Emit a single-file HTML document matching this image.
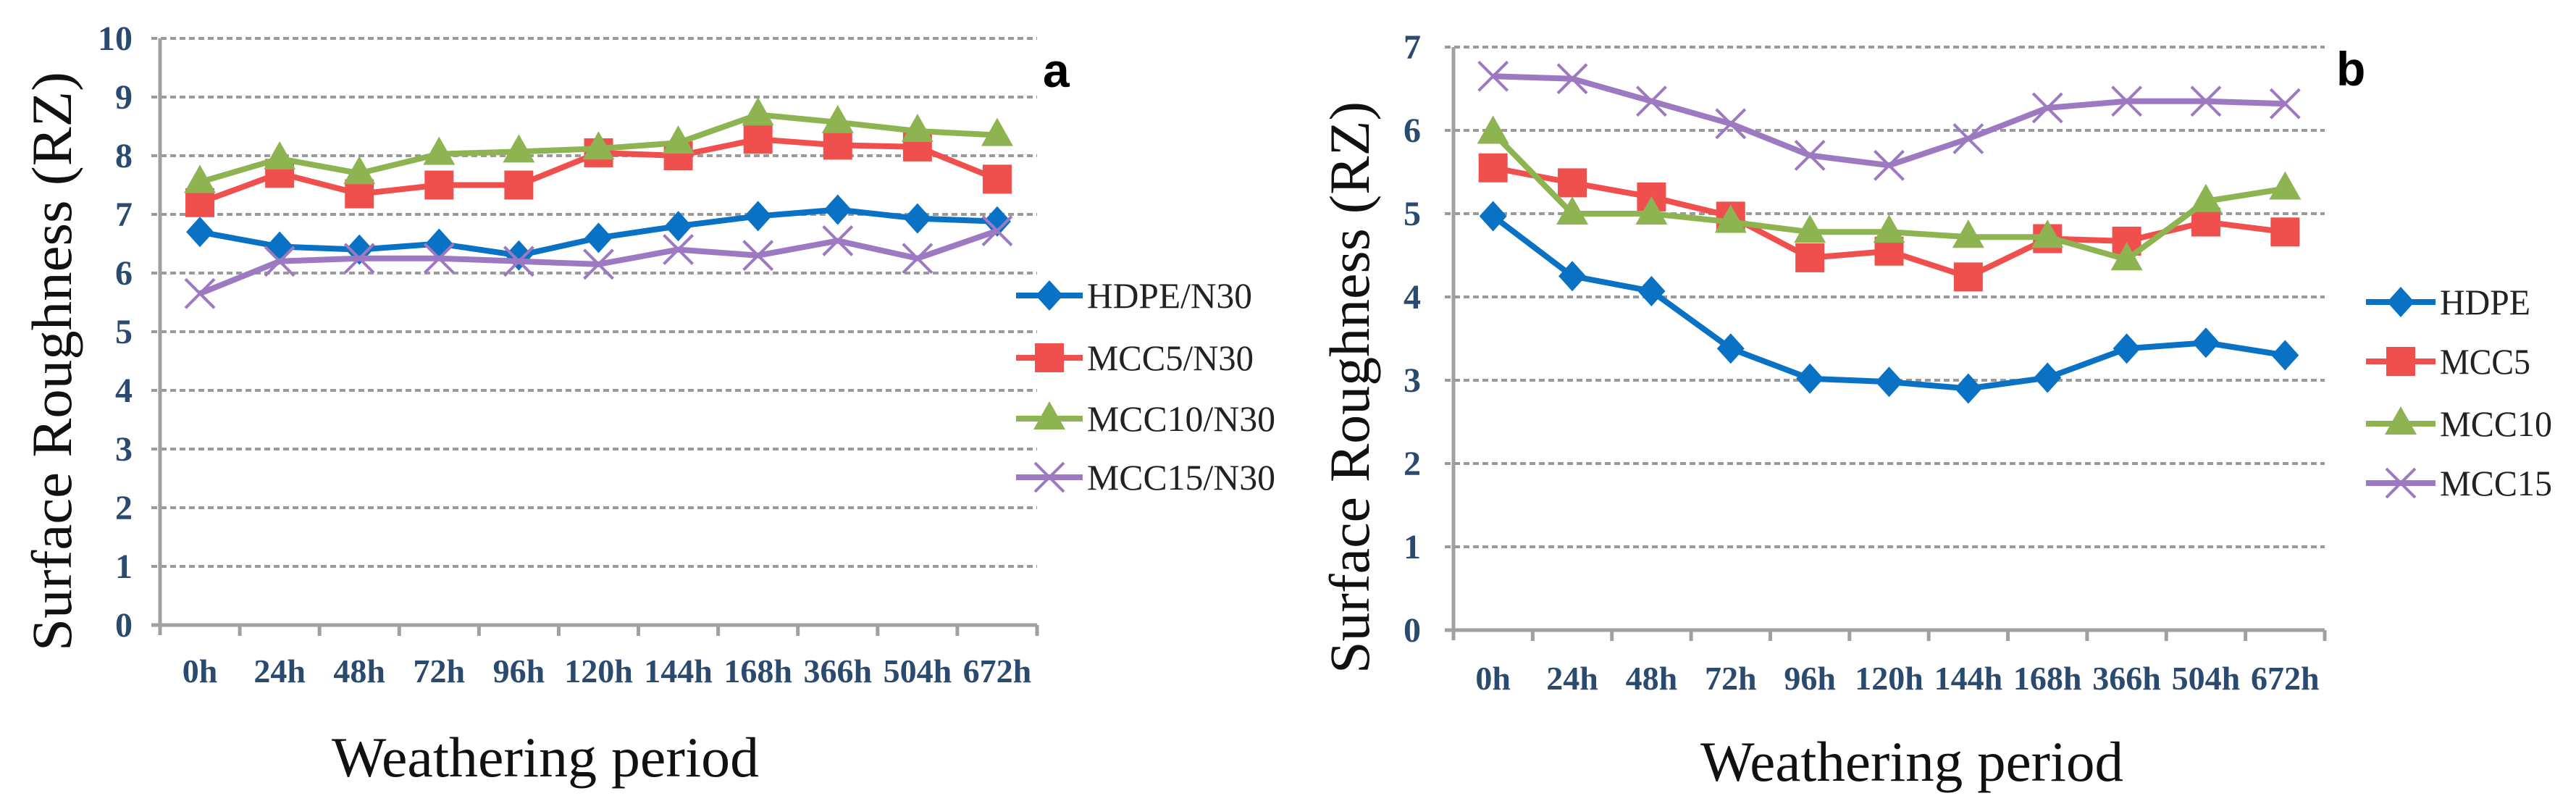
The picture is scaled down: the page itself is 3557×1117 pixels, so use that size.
<!DOCTYPE html>
<html><head><meta charset="utf-8">
<style>
html,body{margin:0;padding:0;background:#fff;}
svg{display:block;}
</style></head>
<body>
<svg id="fig" width="3557" height="1117" viewBox="0 0 3557 1117" xmlns="http://www.w3.org/2000/svg">
<g id="chartA"></g>
<g id="chartB"></g>
</svg>
<script>
const categories = ["0h","24h","48h","72h","96h","120h","144h","168h","366h","504h","672h"];
const ticksA = [0,1,2,3,4,5,6,7,8,9,10];
const ticksB = [0,1,2,3,4,5,6,7];
const namesA = ["HDPE/N30","MCC5/N30","MCC10/N30","MCC15/N30"];
const namesB = ["HDPE","MCC5","MCC10","MCC15"];
const hdpeA  = [6.7,6.45,6.4,6.5,6.3,6.6,6.8,6.97,7.08,6.93,6.88];
const mcc5A  = [7.2,7.7,7.35,7.5,7.5,8.05,8.0,8.28,8.18,8.15,7.6];
const mcc10A = [7.55,7.95,7.7,8.03,8.07,8.12,8.22,8.7,8.57,8.42,8.35];
const mcc15A = [5.65,6.2,6.25,6.25,6.2,6.15,6.4,6.3,6.55,6.25,6.72];
const hdpeB  = [4.97,4.25,4.07,3.38,3.02,2.98,2.9,3.03,3.38,3.45,3.3];
const mcc5B  = [5.55,5.37,5.2,4.97,4.47,4.55,4.24,4.7,4.67,4.9,4.78];
const mcc10B = [5.97,5.0,5.0,4.9,4.78,4.78,4.72,4.72,4.45,5.15,5.3];
const mcc15B = [6.65,6.62,6.35,6.08,5.7,5.58,5.9,6.27,6.35,6.35,6.32];

const NS="http://www.w3.org/2000/svg";
const colors=["#0a72c4","#f0504d","#8db450","#9c79c0"];
const markers=["diamond","square","triangle","cross"];

function mk(tag,attrs,parent){const e=document.createElementNS(NS,tag);for(const k in attrs)e.setAttribute(k,attrs[k]);parent.appendChild(e);return e;}

function marker(g,type,x,y,col){
  let e;
  if(type==="diamond"){e=mk("polygon",{points:`${x},${y-21} ${x+19},${y} ${x},${y+21} ${x-19},${y}`,fill:col},g);}
  else if(type==="square"){e=mk("rect",{x:x-20,y:y-20,width:40,height:40,fill:col},g);}
  else if(type==="triangle"){e=mk("polygon",{points:`${x},${y-24} ${x+22},${y+15} ${x-22},${y+15}`,fill:col},g);}
  else {e=mk("path",{d:`M${x-20},${y-20}L${x+20},${y+20}M${x+20},${y-20}L${x-20},${y+20}`,stroke:col,"stroke-width":4,fill:"none"},g);}
  return e;
}

function draw(cfg){
  const g=document.getElementById(cfg.id);
  const L=cfg.left,R=cfg.right,T=cfg.top,B=cfg.bottom,maxV=cfg.max;
  const n=categories.length,cw=(R-L)/n;
  const xS=i=>L+cw*(i+0.5);
  const yS=v=>B-(B-T)*v/maxV;
  cfg.ticks.forEach(t=>{
    if(t>0){const gl=mk("line",{x1:L-12,x2:R,y1:yS(t),y2:yS(t),stroke:"#9a9a9a","stroke-width":4,"stroke-dasharray":"8 5"},g);
      
      }
    const tl=mk("text",{x:cfg.tickRight,y:yS(t)+16,"text-anchor":"end","font-family":"Liberation Serif, serif","font-weight":"bold","font-size":48,fill:"#2b4a6f"},g);
    tl.textContent=t;
    
    
  });
  const ya=mk("line",{x1:L,x2:L,y1:T,y2:B+14,stroke:"#a0a0a0","stroke-width":5},g);
  
  
  const xa=mk("line",{x1:L-12,x2:R,y1:B,y2:B,stroke:"#a0a0a0","stroke-width":5},g);
  
  
  for(let i=1;i<=n;i++){const tk=mk("line",{x1:L+cw*i,x2:L+cw*i,y1:B,y2:B+15,stroke:"#a0a0a0","stroke-width":5},g);
    
    }
  categories.forEach((c,i)=>{
    const t=mk("text",{x:xS(i),y:cfg.xLabelY,"text-anchor":"middle","font-family":"Liberation Serif, serif","font-weight":"bold","font-size":46,fill:"#2b4a6f"},g);
    t.textContent=c;
    
    
  });
  cfg.series.forEach((s,si)=>{
    const sg=mk("g",{},g);
    
    
    mk("polyline",{points:s.map((v,i)=>xS(i)+","+yS(v)).join(" "),fill:"none",stroke:colors[si],"stroke-width":8,"stroke-linejoin":"round"},sg);
    s.forEach((v,i)=>{const m=marker(sg,markers[si],xS(i),yS(v),colors[si]);
      
      });
    const lg=mk("g",{},g);
    
    
    const ly=cfg.legY[si];
    mk("line",{x1:cfg.legX1,x2:cfg.legX2,y1:ly,y2:ly,stroke:colors[si],"stroke-width":8},lg);
    marker(lg,markers[si],(cfg.legX1+cfg.legX2)/2,ly,colors[si]);
    const lt=mk("text",{x:cfg.legX2+6,y:ly+17,"font-family":"Liberation Serif, serif","font-size":50,fill:"#222",textLength:cfg.legLen[si],lengthAdjust:"spacingAndGlyphs"},lg);
    lt.textContent=cfg.names[si];
  });
  const yt=mk("text",{transform:`translate(${cfg.yTitleX},${cfg.yTitleY}) rotate(-90)`,"text-anchor":"middle","font-family":"Liberation Serif, serif","font-size":78,fill:"#111",textLength:cfg.yTitleLen,lengthAdjust:"spacingAndGlyphs"},g);
  yt.textContent="Surface Roughness (RZ)";
  
  
  const xt=mk("text",{x:cfg.xTitleX,y:cfg.xTitleY,"text-anchor":"middle","font-family":"Liberation Serif, serif","font-size":78,fill:"#111",textLength:cfg.xTitleLen,lengthAdjust:"spacingAndGlyphs"},g);
  xt.textContent="Weathering period";
  
  
  const pl=mk("text",{x:cfg.labX,y:cfg.labY,"font-family":"Liberation Sans, sans-serif","font-weight":"bold","font-size":66,fill:"#000"},g);
  pl.textContent=cfg.label;
  
  
}

draw({id:"chartA",left:221,right:1432,top:53,bottom:863,max:10,ticks:ticksA,tickRight:183,xLabelY:942,
  series:[hdpeA,mcc5A,mcc10A,mcc15A],names:namesA,legX1:1403,legX2:1495,legY:[408,494,578,659],legLen:[228,230,260,260],
  yTitleX:98,yTitleY:499,yTitleLen:800,xTitleX:753,xTitleY:1072,xTitleLen:590,label:"a",labX:1440,labY:120});
draw({id:"chartB",left:2007,right:3210,top:65,bottom:870,max:7,ticks:ticksB,tickRight:1962,xLabelY:952,
  series:[hdpeB,mcc5B,mcc10B,mcc15B],names:namesB,legX1:3267,legX2:3363,legY:[417,499,585,667],legLen:[125,125,155,155],
  yTitleX:1890,yTitleY:535,yTitleLen:790,xTitleX:2640,xTitleY:1078,xTitleLen:584,label:"b",labX:3226,labY:118});
</script>
</body></html>
